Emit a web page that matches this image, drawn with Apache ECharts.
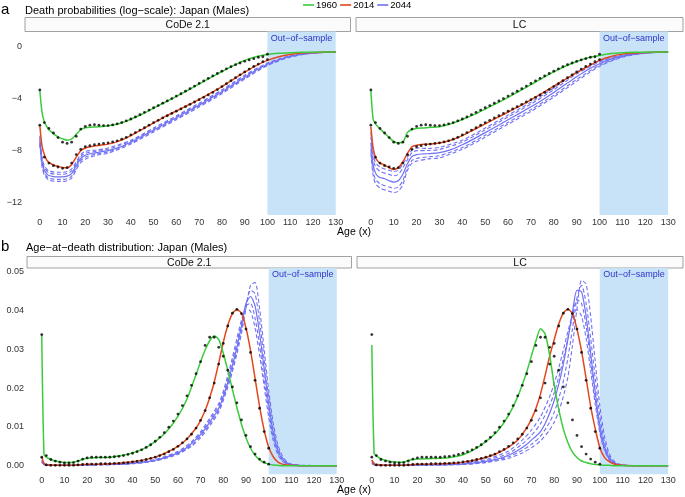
<!DOCTYPE html>
<html><head><meta charset="utf-8">
<script src="https://cdn.jsdelivr.net/npm/echarts@6/dist/echarts.min.js"></script>
<style>html,body{margin:0;padding:0;background:#fff}#c{width:685px;height:497px}</style>
</head><body><div id="c"></div>
<script>
// ---------- ages ----------
const ageFit = [0,1,2,3,4,6,8,10,12,14,16,18,20,23,26,30,35,40,45,50,55,60,65,70,75,80,85,90,95,100,105,110,115,120,125,130];
const ageBand = [0,1,2,4,8,10,12,14,16,18,20,25,30,40,50,60,70,80,90,100,110,120,130];
const ageObs = [0,2,4,6,8,10,12,14,16,18,20,22,24,26,28,30,32,34,36,38,40,42,44,46,48,50,52,54,56,58,60,62,64,66,68,70,72,74,76,78,80,82,84,86,88,90,92,94,96,98,100];
const ageDx = [0,1,2,4,6,8,10,12,14,16,18,20,25,30,35,40,45,50,55,60,64,68,70,72,74,76,78,80,82,84,86,88,90,92,94,96,98,100,102,104,106,108,110,115,120,130];
const ageDxBand = [0,2,10,20,40,50,60,66,70,74,78,80,82,84,86,88,90,92,94,96,98,100,102,104,106,108,110,115,130];

// ---------- observed (shared by both models) ----------
const logqObs1960 = [-3.36,-5.85,-6.3,-6.65,-7.0,-7.35,-7.45,-7.35,-6.9,-6.35,-6.15,-6.05,-6.02,-6.05,-6.08,-6.08,-6.03,-5.95,-5.85,-5.72,-5.58,-5.42,-5.25,-5.07,-4.9,-4.72,-4.55,-4.37,-4.2,-4.02,-3.83,-3.65,-3.45,-3.26,-3.06,-2.86,-2.67,-2.47,-2.29,-2.1,-1.92,-1.74,-1.58,-1.43,-1.3,-1.17,-1.06,-0.97,-0.86,-0.82,-0.62];
const logqObs2014 = [-6.05,-8.5,-8.95,-9.15,-9.25,-9.35,-9.3,-8.95,-8.3,-7.9,-7.7,-7.62,-7.55,-7.5,-7.45,-7.4,-7.33,-7.25,-7.12,-6.98,-6.8,-6.62,-6.43,-6.25,-6.05,-5.86,-5.68,-5.5,-5.33,-5.15,-4.98,-4.81,-4.64,-4.46,-4.28,-4.1,-3.92,-3.74,-3.55,-3.33,-3.1,-2.88,-2.65,-2.42,-2.2,-1.98,-1.76,-1.56,-1.38,-1.2,-1.04];
const dxObs1960 = [0.0338,0.0026,0.0016,0.0012,0.0009,0.0007,0.0007,0.0008,0.0012,0.0017,0.002,0.0022,0.0022,0.0022,0.0022,0.0022,0.0023,0.0024,0.0026,0.0029,0.0032,0.0036,0.0041,0.0047,0.0054,0.0063,0.0073,0.0085,0.0099,0.0115,0.0133,0.0155,0.018,0.0207,0.0237,0.0268,0.031,0.0331,0.0331,0.0305,0.0282,0.0246,0.0203,0.0162,0.0118,0.0078,0.0049,0.003,0.0017,0.0009,0.0004];
const dxObs2014 = [0.0022,0.0002,0.0001,0.0001,0.0001,0.0001,0.0001,0.0001,0.0002,0.0003,0.0004,0.0004,0.0004,0.0005,0.0005,0.0005,0.0006,0.0006,0.0007,0.0008,0.001,0.0011,0.0013,0.0016,0.0019,0.0022,0.0026,0.003,0.0036,0.0042,0.005,0.0059,0.0069,0.0081,0.0097,0.0117,0.0142,0.0175,0.0213,0.0262,0.0315,0.036,0.0393,0.0403,0.0392,0.0352,0.0292,0.022,0.0148,0.0088,0.0045];

// ---------- CoDe 2.1 log death probabilities ----------
const logqCode1960 = [-3.36,-5.1,-5.8,-6.15,-6.4,-6.7,-6.95,-7.1,-7.2,-7.1,-6.75,-6.4,-6.25,-6.2,-6.17,-6.1,-5.92,-5.6,-5.2,-4.75,-4.3,-3.85,-3.38,-2.9,-2.42,-1.95,-1.5,-1.1,-0.82,-0.65,-0.56,-0.51,-0.48,-0.47,-0.46,-0.46];
const logqCode2014 = [-6.05,-7.7,-8.3,-8.7,-8.9,-9.1,-9.2,-9.28,-9.3,-9.05,-8.5,-8.0,-7.8,-7.68,-7.6,-7.5,-7.25,-6.85,-6.37,-5.88,-5.4,-4.97,-4.53,-4.08,-3.6,-3.1,-2.55,-2.0,-1.5,-1.1,-0.82,-0.64,-0.54,-0.49,-0.47,-0.46];
const logqCode2044 = [-7.2,-8.9,-9.5,-9.75,-9.9,-9.98,-10.0,-10.0,-9.95,-9.75,-9.15,-8.6,-8.35,-8.2,-8.12,-8.0,-7.75,-7.35,-6.9,-6.42,-5.95,-5.48,-5.0,-4.52,-4.02,-3.5,-2.95,-2.38,-1.85,-1.4,-1.05,-0.8,-0.63,-0.53,-0.48,-0.46];
const logqCode2044hi95 = [-6.85,-8.55,-9.15,-9.55,-9.65,-9.65,-9.6,-9.4,-8.85,-8.3,-8.05,-7.95,-7.8,-7.2,-6.27,-5.33,-4.37,-3.35,-2.23,-1.3,-0.75,-0.52,-0.46];
const logqCode2044hi80 = [-7.0,-8.7,-9.3,-9.7,-9.8,-9.8,-9.75,-9.55,-9.0,-8.45,-8.2,-8.05,-7.9,-7.27,-6.34,-5.4,-4.44,-3.42,-2.3,-1.35,-0.78,-0.53,-0.46];
const logqCode2044lo80 = [-7.4,-9.1,-9.7,-10.1,-10.2,-10.2,-10.15,-9.95,-9.3,-8.75,-8.5,-8.25,-8.1,-7.43,-6.5,-5.56,-4.6,-3.58,-2.46,-1.45,-0.82,-0.53,-0.46];
const logqCode2044lo95 = [-7.55,-9.25,-9.85,-10.25,-10.35,-10.35,-10.3,-10.1,-9.45,-8.9,-8.65,-8.35,-8.2,-7.5,-6.57,-5.63,-4.67,-3.65,-2.53,-1.5,-0.85,-0.54,-0.46];

// ---------- LC log death probabilities ----------
const logqLc1960 = [-3.4,-5.6,-5.95,-6.15,-6.35,-6.65,-7.0,-7.3,-7.4,-7.35,-6.6,-6.38,-6.3,-6.26,-6.22,-6.17,-5.95,-5.62,-5.25,-4.82,-4.38,-3.92,-3.45,-2.95,-2.45,-1.98,-1.55,-1.18,-0.9,-0.72,-0.58,-0.51,-0.48,-0.47,-0.46,-0.46];
const logqLc2014 = [-6.17,-7.8,-8.5,-8.8,-8.95,-9.1,-9.3,-9.45,-9.3,-8.85,-8.2,-7.7,-7.58,-7.52,-7.5,-7.42,-7.2,-6.85,-6.4,-5.95,-5.5,-5.05,-4.6,-4.12,-3.6,-3.07,-2.55,-2.03,-1.55,-1.1,-0.8,-0.62,-0.53,-0.49,-0.47,-0.46];
const logqLc2044 = [-7.4,-9.1,-9.7,-9.95,-10.05,-10.15,-10.3,-10.4,-10.3,-9.8,-9.0,-8.45,-8.3,-8.25,-8.22,-8.15,-7.92,-7.55,-7.1,-6.62,-6.13,-5.63,-5.15,-4.65,-4.12,-3.55,-2.95,-2.35,-1.8,-1.35,-1.0,-0.77,-0.62,-0.53,-0.48,-0.46];
const logqLc2044hi95 = [-6.6,-8.3,-8.9,-9.25,-9.5,-9.6,-9.5,-9.0,-8.5,-7.95,-7.8,-7.83,-7.75,-7.2,-6.27,-5.28,-4.3,-3.2,-2.0,-1.15,-0.69,-0.51,-0.46];
const logqLc2044hi80 = [-6.92,-8.62,-9.22,-9.57,-9.82,-9.92,-9.82,-9.32,-8.7,-8.15,-8.0,-7.99,-7.91,-7.34,-6.41,-5.42,-4.44,-3.34,-2.14,-1.23,-0.72,-0.52,-0.46];
const logqLc2044lo80 = [-7.88,-9.58,-10.18,-10.53,-10.78,-10.88,-10.78,-10.28,-9.3,-8.75,-8.6,-8.47,-8.39,-7.76,-6.83,-5.84,-4.86,-3.76,-2.56,-1.47,-0.82,-0.54,-0.46];
const logqLc2044lo95 = [-8.2,-9.9,-10.5,-10.85,-11.1,-11.2,-11.1,-10.6,-9.5,-8.95,-8.8,-8.63,-8.55,-7.9,-6.97,-5.98,-5.0,-3.9,-2.7,-1.55,-0.85,-0.55,-0.46];

// ---------- CoDe 2.1 age-at-death distribution ----------
const dxCode1960 = [0.0337,0.0028,0.0022,0.0016,0.0012,0.001,0.0008,0.0008,0.0009,0.0012,0.0016,0.0019,0.0021,0.0022,0.0026,0.0033,0.0044,0.0062,0.0088,0.0127,0.0172,0.0235,0.0268,0.0298,0.0322,0.0334,0.0325,0.029,0.0245,0.0197,0.015,0.0107,0.0072,0.0045,0.0027,0.0015,0.0008,0.0004,0.0002,0.0001,0,0,0,0,0,0];
const dxCode2014 = [0.0023,0.0006,0.0003,0.0002,0.0001,0.0001,0.0001,0.0001,0.0001,0.0002,0.0003,0.0004,0.0004,0.0005,0.0007,0.001,0.0015,0.0022,0.0034,0.005,0.0069,0.0097,0.0117,0.0142,0.0175,0.0215,0.0265,0.0318,0.0362,0.0392,0.0402,0.0393,0.0355,0.0297,0.0225,0.0152,0.0092,0.0048,0.0023,0.001,0.0004,0.0002,0.0001,0,0,0];
const dxCode2044 = [0.0011,0.0003,0.0001,0.0001,0.0001,0.0001,0.0001,0.0001,0.0001,0.0001,0.0002,0.0002,0.0003,0.0003,0.0004,0.0006,0.0009,0.0014,0.0022,0.0033,0.0047,0.0068,0.008,0.0095,0.0112,0.0129,0.0148,0.0178,0.0215,0.0258,0.0305,0.036,0.0418,0.0436,0.0412,0.034,0.025,0.0158,0.0085,0.004,0.0017,0.0007,0.0003,0,0,0];
const dxCode2044hi95 = [0.0008,0.0001,0.0001,0.0001,0.0005,0.0012,0.0029,0.005,0.0072,0.0102,0.0138,0.0168,0.0202,0.0242,0.0288,0.034,0.0405,0.0465,0.0472,0.0405,0.030,0.0195,0.011,0.0055,0.0025,0.001,0.0004,0.0001,0];
const dxCode2044hi80 = [0.0009,0.0001,0.0001,0.00015,0.00055,0.0013,0.0031,0.0053,0.0076,0.0107,0.0143,0.0173,0.0208,0.025,0.0296,0.035,0.0412,0.0452,0.0443,0.0372,0.0275,0.0176,0.0097,0.0047,0.0021,0.0008,0.0003,0,0];
const dxCode2044lo80 = [0.0012,0.0001,0.0001,0.00022,0.00065,0.0015,0.0035,0.0059,0.0084,0.0117,0.0154,0.0185,0.0224,0.0268,0.0316,0.0368,0.0412,0.0418,0.038,0.031,0.0225,0.014,0.0074,0.0034,0.0014,0.0005,0.0002,0,0];
const dxCode2044lo95 = [0.0014,0.0002,0.0001,0.00025,0.0007,0.0016,0.0037,0.0062,0.0088,0.0122,0.016,0.0192,0.0233,0.0278,0.0328,0.0375,0.0404,0.0398,0.0355,0.0285,0.0205,0.0125,0.0065,0.0029,0.0012,0.0005,0.0002,0,0];

// ---------- LC age-at-death distribution ----------
const dxLc1960 = [0.0311,0.0032,0.0025,0.0018,0.0014,0.0011,0.001,0.0009,0.0009,0.0014,0.0016,0.0017,0.0018,0.0019,0.0022,0.0028,0.0042,0.0062,0.0088,0.013,0.0178,0.0243,0.0283,0.0322,0.0353,0.034,0.0285,0.0208,0.0145,0.0095,0.006,0.0035,0.0021,0.0012,0.0008,0.0005,0.0003,0.0002,0.0001,0.0001,0,0,0,0,0,0];
const dxLc2014 = [0.0015,0.0004,0.0003,0.0002,0.0001,0.0001,0.0001,0.0001,0.0001,0.0002,0.0003,0.0004,0.0004,0.0005,0.0006,0.0009,0.0014,0.0021,0.0032,0.0048,0.0066,0.0098,0.012,0.0148,0.0185,0.0232,0.0282,0.0325,0.0365,0.0393,0.0403,0.0392,0.0352,0.0295,0.0225,0.0153,0.0095,0.0047,0.0022,0.0011,0.0005,0.0002,0.0001,0,0,0];
const dxLc2044 = [0.0008,0.0002,0.0001,0.0001,0.0001,0.0001,0.0001,0.0001,0.0001,0.0001,0.0001,0.0002,0.0002,0.0002,0.0003,0.0004,0.0007,0.0011,0.0017,0.0027,0.0039,0.0055,0.0066,0.0076,0.0088,0.0108,0.0135,0.0168,0.021,0.0262,0.0325,0.0395,0.0452,0.0448,0.0385,0.029,0.019,0.0105,0.005,0.0021,0.0009,0.0003,0.0001,0,0,0];
const dxLc2044hi95 = [0.0005,0.0001,0.00003,0.0001,0.0003,0.0008,0.0019,0.0033,0.0046,0.0064,0.0092,0.0112,0.014,0.0178,0.0228,0.031,0.0405,0.0478,0.0468,0.0385,0.0268,0.0155,0.0078,0.0033,0.0013,0.0005,0.0002,0,0];
const dxLc2044hi80 = [0.0006,0.0001,0.00004,0.00015,0.00035,0.0009,0.0023,0.004,0.0055,0.0076,0.0112,0.0138,0.0173,0.0218,0.0277,0.0352,0.0432,0.0465,0.0418,0.0328,0.0225,0.0128,0.0062,0.0026,0.001,0.0004,0.0001,0,0];
const dxLc2044lo80 = [0.001,0.0002,0.00007,0.00025,0.0005,0.0013,0.0032,0.0056,0.0078,0.0108,0.0155,0.0188,0.0228,0.0275,0.0328,0.0385,0.0428,0.0418,0.036,0.0268,0.0172,0.0092,0.0043,0.0018,0.0007,0.0003,0.0001,0,0];
const dxLc2044lo95 = [0.0013,0.0003,0.0001,0.0003,0.0006,0.0016,0.0038,0.0066,0.0092,0.0126,0.0178,0.0212,0.0252,0.0298,0.0345,0.0388,0.0402,0.0385,0.0328,0.0245,0.0158,0.0085,0.004,0.0017,0.0006,0.0002,0.0001,0,0];

// ---------- ticks & labels ----------
const xTicks = [0,10,20,30,40,50,60,70,80,90,100,110,120,130];
const yTicksLogq = [-12,-8,-4,0];
const yTicksDx = [0,0.01,0.02,0.03,0.04,0.05];
const years = ['1960','2014','2044'];
const panelNames = ['CoDe 2.1','LC'];

// ---------- styling ----------
const FONT = '"Liberation Sans", Arial, Helvetica, sans-serif';
const C_GREEN = '#3ccb3c', C_RED = '#e2471d', C_BLUE = '#7070f4';
const SHADE = '#c8e3f7', OOS = '#3232c8';
const MINUS = '\u2212';

const grids = [
  {left: 25, top: 31.5, width: 325.5, height: 183.5},
  {left: 356, top: 31.5, width: 327, height: 183.5},
  {left: 27, top: 268, width: 324.5, height: 206.3},
  {left: 357, top: 268, width: 326, height: 206.3}
];

function pts(a, v) { return a.map((x, i) => [x, v[i]]); }
function line(gi, a, v, color, width, dashed, name) {
  return {type: 'line', name: name, xAxisIndex: gi, yAxisIndex: gi, data: pts(a, v),
    symbol: 'none', showSymbol: false, smooth: 0.25, silent: true, z: 3,
    lineStyle: {color: color, width: width, type: dashed ? [4, 2.5] : 'solid'},
    itemStyle: {color: color}};
}
function dots(gi, a, v) {
  return {type: 'scatter', xAxisIndex: gi, yAxisIndex: gi, data: pts(a, v), symbolSize: 2.8,
    itemStyle: {color: '#000'}, silent: true, z: 5};
}
function shade(gi) {
  return {type: 'line', xAxisIndex: gi, yAxisIndex: gi, data: [], silent: true, z: 1,
    markArea: {silent: true, itemStyle: {color: SHADE},
      label: {show: true, position: 'insideTop', distance: 2.5, color: OOS, fontSize: 9, fontFamily: FONT, formatter: 'Out' + MINUS + 'of' + MINUS + 'sample'},
      data: [[{xAxis: 100}, {xAxis: 130}]]}};
}

const panels = [
  {gi: 0, obs: [logqObs1960, logqObs2014], ao: ageObs, af: ageFit, ab: ageBand,
   fit: [logqCode1960, logqCode2014, logqCode2044], band: [logqCode2044hi95, logqCode2044hi80, logqCode2044lo80, logqCode2044lo95]},
  {gi: 1, obs: [logqObs1960, logqObs2014], ao: ageObs, af: ageFit, ab: ageBand,
   fit: [logqLc1960, logqLc2014, logqLc2044], band: [logqLc2044hi95, logqLc2044hi80, logqLc2044lo80, logqLc2044lo95]},
  {gi: 2, obs: [dxObs1960, dxObs2014], ao: ageObs, af: ageDx, ab: ageDxBand,
   fit: [dxCode1960, dxCode2014, dxCode2044], band: [dxCode2044hi95, dxCode2044hi80, dxCode2044lo80, dxCode2044lo95]},
  {gi: 3, obs: [dxObs1960, dxObs2014], ao: ageObs, af: ageDx, ab: ageDxBand,
   fit: [dxLc1960, dxLc2014, dxLc2044], band: [dxLc2044hi95, dxLc2044hi80, dxLc2044lo80, dxLc2044lo95]}
];

const series = [];
panels.forEach(p => {
  series.push(shade(p.gi));
  p.band.forEach((b, k) => series.push(line(p.gi, p.ab, b, C_BLUE, 1.1, true, '2044 band ' + k)));
  series.push(line(p.gi, p.af, p.fit[2], C_BLUE, 1.2, false, years[2]));
  series.push(line(p.gi, p.af, p.fit[1], C_RED, 1.5, false, years[1]));
  series.push(line(p.gi, p.af, p.fit[0], C_GREEN, 1.5, false, years[0]));
  series.push(dots(p.gi, p.ao, p.obs[0]));
  series.push(dots(p.gi, p.ao, p.obs[1]));
});

const labelStyle = {fontSize: 9, fontFamily: FONT, color: '#333'};
const xAxis = grids.map((g, i) => ({type: 'value', gridIndex: i, min: -6.5, max: 136.5,
  axisLine: {show: false}, axisTick: {show: false}, splitLine: {show: false},
  axisLabel: Object.assign({customValues: xTicks, margin: i < 2 ? 3 : 2}, labelStyle)}));
const yAxis = grids.map((g, i) => {
  const top = i < 2;
  return {type: 'value', gridIndex: i,
    min: top ? -12.92 : -0.00222, max: top ? 1.11 : 0.05095,
    axisLine: {show: false}, axisTick: {show: false}, splitLine: {show: false},
    axisLabel: Object.assign({show: i === 0 || i === 2, customValues: top ? yTicksLogq : yTicksDx, margin: 3,
      formatter: top ? (v => v < 0 ? MINUS + Math.abs(v) : String(v)) : (v => v.toFixed(2))}, labelStyle)};
});

function strip(x, y, w, h, text) {
  return [
    {type: 'rect', shape: {x: x, y: y, width: w, height: h}, style: {fill: '#fbfbfb', stroke: '#8a8a8a', lineWidth: 0.8}, silent: true},
    {type: 'text', x: x + w / 2, y: y + h / 2 + 0.5, style: {text: text, fill: '#111', font: '10.5px ' + FONT, align: 'center', verticalAlign: 'middle'}, silent: true}
  ];
}
function txt(x, y, text, size, align) {
  return {type: 'text', x: x, y: y, style: {text: text, fill: '#000', font: size + 'px ' + FONT, align: align || 'left', verticalAlign: 'middle'}, silent: true};
}

const graphic = [].concat(
  [txt(1, 9.5, 'a', 15), txt(25, 11, 'Death probabilities (log' + MINUS + 'scale): Japan (Males)', 11)],
  strip(25, 17.5, 325.5, 14, panelNames[0]), strip(356, 17.5, 327, 14, panelNames[1]),
  [txt(354, 232, 'Age (x)', 10.5, 'center')],
  [txt(1, 246.5, 'b', 15), txt(26, 247.5, 'Age' + MINUS + 'at' + MINUS + 'death distribution: Japan (Males)', 11)],
  strip(27, 256.5, 324.5, 11.5, panelNames[0]), strip(357, 256.5, 326, 11.5, panelNames[1]),
  [txt(354, 490, 'Age (x)', 10.5, 'center')]
);

const chart = echarts.init(document.getElementById('c'), null, {renderer: 'canvas'});
chart.setOption({
  animation: false,
  backgroundColor: '#fff',
  grid: grids,
  xAxis: xAxis,
  yAxis: yAxis,
  legend: {data: years, left: 303, top: 0, padding: 0, itemGap: 3, itemWidth: 11, itemHeight: 1.6, icon: 'rect',
    textStyle: {fontSize: 9.5, fontFamily: FONT, color: '#000', padding: [0, 0, 0, -3]}, selectedMode: false},
  graphic: graphic,
  series: series
});
</script>
</body></html>
